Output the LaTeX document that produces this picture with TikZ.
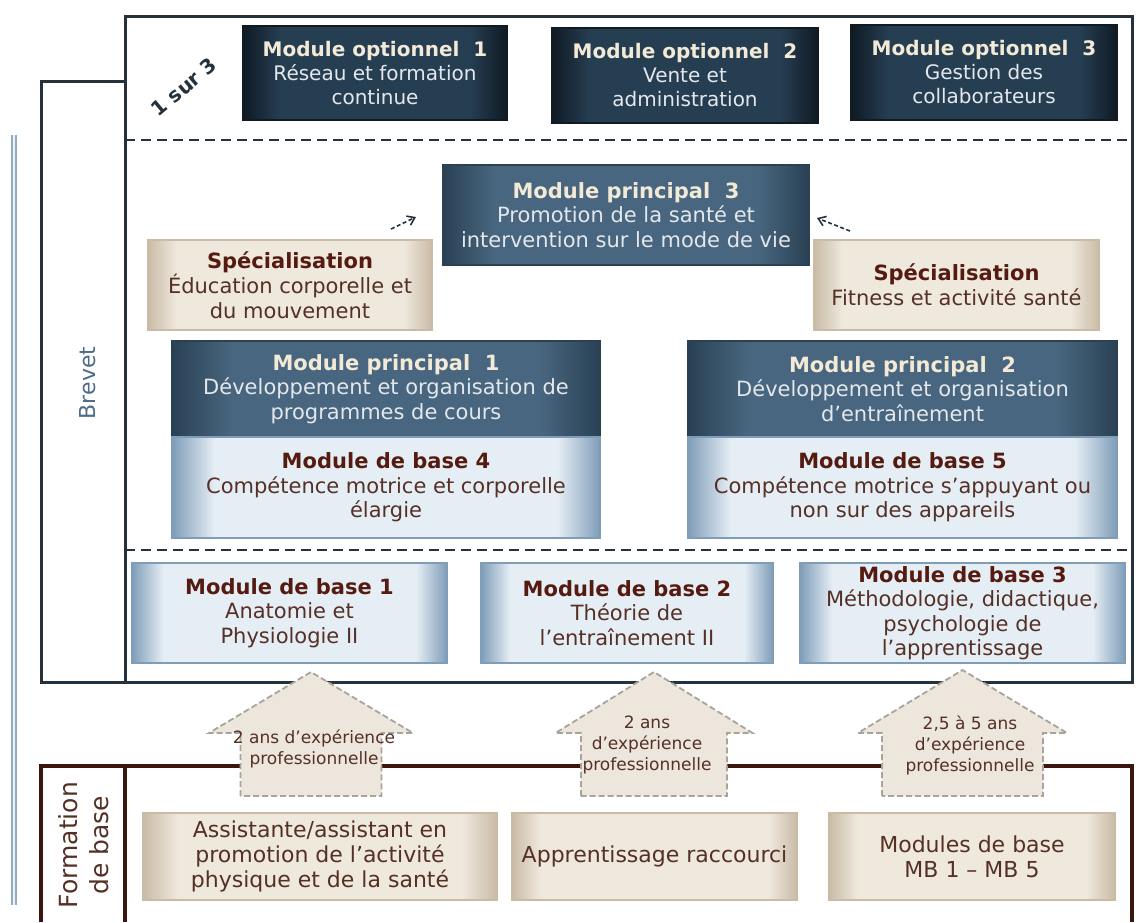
\documentclass[tikz,border=0pt]{standalone}
\usepackage{fontspec}
\setmainfont{DejaVu Sans}
\usetikzlibrary{arrows.meta}

\definecolor{navy}{HTML}{263E52}
\definecolor{navyedge}{HTML}{0F1A23}
\definecolor{slate}{HTML}{48667F}
\definecolor{slateedge}{HTML}{2A4154}
\definecolor{ice}{HTML}{E6EEF5}
\definecolor{iceedge}{HTML}{7F9DB8}
\definecolor{sand}{HTML}{EFE8DD}
\definecolor{sandedge}{HTML}{C9BBA6}
\definecolor{cream}{HTML}{F2EAD6}
\definecolor{paleblue}{HTML}{E4E8EC}
\definecolor{brown}{HTML}{561B10}
\definecolor{umber}{HTML}{553026}
\definecolor{framedark}{HTML}{25323C}
\definecolor{framebrown}{HTML}{3A160C}
\definecolor{arrowline}{HTML}{A8A39B}
\definecolor{arrowfill}{HTML}{EDE6DC}
\definecolor{brevetblue}{HTML}{4D6C88}
\definecolor{rail}{HTML}{92ACC4}

\pgfdeclarehorizontalshading{navyshade}{100bp}{color(0bp)=(navyedge); color(25bp)=(navyedge); color(32bp)=(navy); color(68bp)=(navy); color(75bp)=(navyedge); color(100bp)=(navyedge)}
\pgfdeclarehorizontalshading{slateshade}{100bp}{color(0bp)=(slateedge); color(25bp)=(slateedge); color(32bp)=(slate); color(68bp)=(slate); color(75bp)=(slateedge); color(100bp)=(slateedge)}
\pgfdeclarehorizontalshading{iceshade}{100bp}{color(0bp)=(iceedge); color(25bp)=(iceedge); color(30bp)=(ice); color(70bp)=(ice); color(75bp)=(iceedge); color(100bp)=(iceedge)}
\pgfdeclarehorizontalshading{sandshade}{100bp}{color(0bp)=(sandedge); color(25bp)=(sandedge); color(30bp)=(sand); color(70bp)=(sand); color(75bp)=(sandedge); color(100bp)=(sandedge)}

\tikzset{
  box/.style={rectangle, align=center, inner sep=3pt, font=\fontsize{20}{24}\selectfont},
  optbox/.style={box, shade, shading=navyshade, draw=navyedge, line width=2pt, text=paleblue},
  mainbox/.style={box, shade, shading=slateshade, draw=slateedge, line width=2pt, text=paleblue, font=\fontsize{21}{24.5}\selectfont},
  basebox/.style={box, shade, shading=iceshade, draw=iceedge, line width=2pt, text=umber, font=\fontsize{21}{24.5}\selectfont},
  specbox/.style={box, shade, shading=sandshade, draw=sandedge, line width=1.5pt, text=umber, font=\fontsize{21}{25}\selectfont},
  brevetframe/.style={draw=framedark, line width=3pt},
  baseframe/.style={draw=framebrown, line width=3.5pt},
  sep/.style={draw=framedark, line width=2.2pt, dash pattern=on 10pt off 6pt},
  rail/.style={draw=rail, line width=2pt, double=white!85!rail, double distance=2.5pt},
  blockarrow/.style={draw=arrowline, fill=arrowfill, line width=1.8pt, dash pattern=on 6pt off 3pt, line join=miter},
  arrowtext/.style={align=center, text=umber, font=\fontsize{17}{21}\selectfont},
  hint/.style={draw=framedark, line width=1.6pt, dash pattern=on 4pt off 2.5pt, -{Straight Barb[length=7pt, width=10pt]}}
}

\newcommand{\ttl}[2]{\textbf{\color{#1}#2}}

\begin{document}
\begin{tikzpicture}[x=1pt, y=-1pt]
  \useasboundingbox (0,0) rectangle (1146,922);

  \draw[rail] (14,135) -- (14,905);
  \draw[brevetframe] (125,682) -- (125,16) -- (1132,16) -- (1132,682) -- (41,682) -- (41,81) -- (125,81);
  \draw[sep] (125,140) -- (1132,140);
  \draw[sep] (125,550) -- (1132,550);
  \draw[baseframe] (41,922) -- (41,766) -- (1132,766) -- (1132,922);
  \draw[baseframe] (125,766) -- (125,922);

  \node[rotate=90, text=brevetblue, font=\fontsize{22}{26}\selectfont] (brevet) at (88,383) {Brevet};
  \node[rotate=90, align=center, text=umber, font=\fontsize{25}{31}\selectfont] (formation) at (84,845) {Formation\\de base};
  \node[rotate=40, text=framedark, font=\bfseries\fontsize{20}{24}\selectfont] (choice) at (184,87) {1 sur 3};

  \node[optbox, minimum width=264pt, minimum height=94pt] (om1) at (375,73)
    {\ttl{cream}{Module optionnel~ 1}\\Réseau et formation\\continue};
  \node[optbox, minimum width=266pt, minimum height=95pt] (om2) at (685,75.5)
    {\ttl{cream}{Module optionnel~ 2}\\Vente et\\administration};
  \node[optbox, minimum width=266pt, minimum height=95pt] (om3) at (984,72.5)
    {\ttl{cream}{Module optionnel~ 3}\\Gestion des\\collaborateurs};

  \node[mainbox, minimum width=366pt, minimum height=100pt] (mp3) at (626,215)
    {\ttl{cream}{Module principal~ 3}\\Promotion de la santé et\\intervention sur le mode de vie};
  \node[specbox, minimum width=284pt, minimum height=90pt] (spec1) at (290,285)
    {\ttl{brown}{Spécialisation}\\Éducation corporelle et\\du mouvement};
  \node[specbox, minimum width=285pt, minimum height=90pt] (spec2) at (956.5,285)
    {\ttl{brown}{Spécialisation}\\Fitness et activité santé};

  \node[mainbox, minimum width=428pt, minimum height=96pt] (mp1) at (386,389)
    {\ttl{cream}{Module principal~ 1}\\Développement et organisation de\\programmes de cours};
  \node[basebox, minimum width=428pt, minimum height=101pt] (mb4) at (386,487.5)
    {\ttl{brown}{Module de base 4}\\Compétence motrice et corporelle\\élargie};
  \node[mainbox, minimum width=429pt, minimum height=96pt] (mp2) at (902.5,389)
    {\ttl{cream}{Module principal~ 2}\\Développement et organisation\\d’entraînement};
  \node[basebox, minimum width=429pt, minimum height=101pt] (mb5) at (902.5,487.5)
    {\ttl{brown}{Module de base 5}\\Compétence motrice s’appuyant ou\\non sur des appareils};

  \node[basebox, minimum width=315pt, minimum height=100pt] (mb1) at (289.5,613)
    {\ttl{brown}{Module de base 1}\\Anatomie et\\Physiologie II};
  \node[basebox, minimum width=292pt, minimum height=100pt] (mb2) at (627,613)
    {\ttl{brown}{Module de base 2}\\Théorie de\\l’entraînement II};
  \node[basebox, minimum width=325pt, minimum height=100pt] (mb3) at (962.5,613)
    {\ttl{brown}{Module de base 3}\\Méthodologie, didactique,\\psychologie de\\l’apprentissage};

  \coordinate (h1) at (391,229);
  \coordinate (h2) at (416,217);
  \coordinate (h3) at (850,231);
  \coordinate (h4) at (817,218);
  \draw[hint] (h1) -- (h2);
  \draw[hint] (h3) -- (h4);

  \foreach \c/\t/\h/\s in {311/672/102/70.5, 654/672/98.5/73, 962.5/670/104.5/80.5}
    \draw[blockarrow] ({\c-\s},796) -- ({\c-\s},733) -- ({\c-\h},733) -- (\c,\t)
      -- ({\c+\h},733) -- ({\c+\s},733) -- ({\c+\s},796) -- cycle;

  \node[arrowtext] (xp1) at (314,749) {2 ans d’expérience\\professionnelle};
  \node[arrowtext] (xp2) at (647,745) {2 ans\\d’expérience\\professionnelle};
  \node[arrowtext] (xp3) at (970,745) {2,5 à 5 ans\\d’expérience\\professionnelle};

  \node[specbox, minimum width=354pt, minimum height=87pt, font=\fontsize{22}{25}\selectfont] (pre1) at (320,856.5)
    {Assistante/assistant en\\promotion de l’activité\\physique et de la santé};
  \node[specbox, minimum width=285pt, minimum height=87pt, font=\fontsize{22}{25}\selectfont] (pre2) at (654.5,856.5)
    {Apprentissage raccourci};
  \node[specbox, minimum width=286pt, minimum height=87pt, font=\fontsize{22}{25}\selectfont] (pre3) at (972,856.5)
    {Modules de base\\MB 1 – MB 5};
\end{tikzpicture}
\end{document}
